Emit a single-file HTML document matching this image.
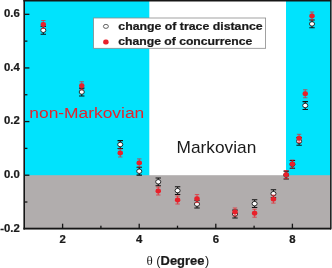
<!DOCTYPE html>
<html><head><meta charset="utf-8"><style>
html,body{margin:0;padding:0;background:#fff;}
svg{display:block;will-change:transform;transform:translateZ(0)}
text{font-family:"Liberation Sans",sans-serif;}
</style></head><body>
<svg width="332" height="268" viewBox="0 0 332 268">
<rect x="0" y="0" width="332" height="268" fill="#ffffff"/>
<rect x="25" y="1" width="124.3" height="175" fill="#00e3fd"/>
<rect x="286" y="1" width="45" height="175" fill="#00e3fd"/>
<rect x="25" y="175.2" width="306" height="53" fill="#b1adad"/>

<rect x="23.4" y="0" width="307.8" height="1.5" fill="#161616"/>
<rect x="23.4" y="0" width="1.6" height="229.5" fill="#161616"/>
<rect x="23.4" y="227.7" width="307.8" height="1.85" fill="#161616"/>
<rect x="330.1" y="0" width="1.1" height="229.5" fill="#161616"/>
<rect x="331.2" y="0" width="0.8" height="228.8" fill="#5a5a5a"/>
<rect x="25" y="13.66" width="4.4" height="1.3" fill="#161616"/>
<rect x="25" y="40.48" width="2.4" height="1.3" fill="#161616"/>
<rect x="25" y="67.29" width="4.4" height="1.3" fill="#161616"/>
<rect x="25" y="94.10" width="2.4" height="1.3" fill="#161616"/>
<rect x="25" y="120.92" width="4.4" height="1.3" fill="#161616"/>
<rect x="25" y="147.73" width="2.4" height="1.3" fill="#161616"/>
<rect x="25" y="174.55" width="4.4" height="1.3" fill="#161616"/>
<rect x="25" y="201.36" width="2.4" height="1.3" fill="#161616"/>
<rect x="61.95" y="223.70" width="1.3" height="4.4" fill="#161616"/>
<rect x="100.25" y="225.70" width="1.3" height="2.4" fill="#161616"/>
<rect x="138.55" y="223.70" width="1.3" height="4.4" fill="#161616"/>
<rect x="176.85" y="225.70" width="1.3" height="2.4" fill="#161616"/>
<rect x="215.15" y="223.70" width="1.3" height="4.4" fill="#161616"/>
<rect x="253.45" y="225.70" width="1.3" height="2.4" fill="#161616"/>
<rect x="291.75" y="223.70" width="1.3" height="4.4" fill="#161616"/>
<text transform="translate(19.80,17.21) scale(1.08,1)" font-size="10.5px" text-anchor="end" font-weight="bold" stroke="#1a1a1a" stroke-width="0.22" fill="#1a1a1a">0.6</text>
<text transform="translate(19.80,70.84) scale(1.08,1)" font-size="10.5px" text-anchor="end" font-weight="bold" stroke="#1a1a1a" stroke-width="0.22" fill="#1a1a1a">0.4</text>
<text transform="translate(19.80,124.47) scale(1.08,1)" font-size="10.5px" text-anchor="end" font-weight="bold" stroke="#1a1a1a" stroke-width="0.22" fill="#1a1a1a">0.2</text>
<text transform="translate(19.80,178.10) scale(1.08,1)" font-size="10.5px" text-anchor="end" font-weight="bold" stroke="#1a1a1a" stroke-width="0.22" fill="#1a1a1a">0.0</text>
<text transform="translate(19.80,231.73) scale(1.08,1)" font-size="10.5px" text-anchor="end" font-weight="bold" stroke="#1a1a1a" stroke-width="0.22" fill="#1a1a1a">-0.2</text>
<text transform="translate(62.60,242.60) scale(1.08,1)" font-size="10.5px" text-anchor="middle" font-weight="bold" stroke="#1a1a1a" stroke-width="0.22" fill="#1a1a1a">2</text>
<text transform="translate(139.20,242.60) scale(1.08,1)" font-size="10.5px" text-anchor="middle" font-weight="bold" stroke="#1a1a1a" stroke-width="0.22" fill="#1a1a1a">4</text>
<text transform="translate(215.80,242.60) scale(1.08,1)" font-size="10.5px" text-anchor="middle" font-weight="bold" stroke="#1a1a1a" stroke-width="0.22" fill="#1a1a1a">6</text>
<text transform="translate(292.40,242.60) scale(1.08,1)" font-size="10.5px" text-anchor="middle" font-weight="bold" stroke="#1a1a1a" stroke-width="0.22" fill="#1a1a1a">8</text>
<text transform="translate(146.60,265.00) scale(1.02,1)" font-size="12.8px" text-anchor="start" fill="#1a1a1a" style="font-family:'Liberation Serif',serif">θ</text>
<text transform="translate(156.30,265.00) scale(1.05,1)" font-size="12px" text-anchor="start" fill="#1a1a1a">(</text>
<text transform="translate(160.60,265.00) scale(1.06,1)" font-size="12.2px" text-anchor="start" font-weight="bold" stroke="#1a1a1a" stroke-width="0.22" fill="#1a1a1a">Degree</text>
<text transform="translate(204.90,265.00) scale(1.05,1)" font-size="12px" text-anchor="start" fill="#1a1a1a">)</text>
<text transform="translate(29.30,118.40) scale(1.133,1)" font-size="15.35px" text-anchor="start" fill="#e4222c">non-Markovian</text>
<text transform="translate(176.60,152.60) scale(1.1,1)" font-size="15.7px" text-anchor="start" fill="#1a1a1a">Markovian</text>
<path stroke="#111" stroke-width="1.05" fill="none" d="M43.30 26.35V34.15M40.60 26.35H46.00M40.60 34.15H46.00"/><ellipse cx="43.30" cy="30.25" rx="2.55" ry="2.25" fill="#fff" stroke="#1a1a1a" stroke-width="0.9"/>
<path stroke="#111" stroke-width="1.05" fill="none" d="M81.75 88.10V95.90M79.05 88.10H84.45M79.05 95.90H84.45"/><ellipse cx="81.75" cy="92.00" rx="2.55" ry="2.25" fill="#fff" stroke="#1a1a1a" stroke-width="0.9"/>
<path stroke="#111" stroke-width="1.05" fill="none" d="M120.25 140.60V148.40M117.55 140.60H122.95M117.55 148.40H122.95"/><ellipse cx="120.25" cy="144.50" rx="2.55" ry="2.25" fill="#fff" stroke="#1a1a1a" stroke-width="0.9"/>
<path stroke="#111" stroke-width="1.05" fill="none" d="M139.25 167.30V175.10M136.55 167.30H141.95M136.55 175.10H141.95"/><ellipse cx="139.25" cy="171.20" rx="2.55" ry="2.25" fill="#fff" stroke="#1a1a1a" stroke-width="0.9"/>
<path stroke="#111" stroke-width="1.05" fill="none" d="M158.25 177.90V185.70M155.55 177.90H160.95M155.55 185.70H160.95"/><ellipse cx="158.25" cy="181.80" rx="2.55" ry="2.25" fill="#fff" stroke="#1a1a1a" stroke-width="0.9"/>
<path stroke="#111" stroke-width="1.05" fill="none" d="M177.60 186.70V194.50M174.90 186.70H180.30M174.90 194.50H180.30"/><ellipse cx="177.60" cy="190.60" rx="2.55" ry="2.25" fill="#fff" stroke="#1a1a1a" stroke-width="0.9"/>
<path stroke="#111" stroke-width="1.05" fill="none" d="M197.00 200.20V208.00M194.30 200.20H199.70M194.30 208.00H199.70"/><ellipse cx="197.00" cy="204.10" rx="2.55" ry="2.25" fill="#fff" stroke="#1a1a1a" stroke-width="0.9"/>
<path stroke="#111" stroke-width="1.05" fill="none" d="M235.00 210.10V217.90M232.30 210.10H237.70M232.30 217.90H237.70"/><ellipse cx="235.00" cy="214.00" rx="2.55" ry="2.25" fill="#fff" stroke="#1a1a1a" stroke-width="0.9"/>
<path stroke="#111" stroke-width="1.05" fill="none" d="M254.60 199.75V207.55M251.90 199.75H257.30M251.90 207.55H257.30"/><ellipse cx="254.60" cy="203.65" rx="2.55" ry="2.25" fill="#fff" stroke="#1a1a1a" stroke-width="0.9"/>
<path stroke="#111" stroke-width="1.05" fill="none" d="M273.45 189.80V197.60M270.75 189.80H276.15M270.75 197.60H276.15"/><ellipse cx="273.45" cy="193.70" rx="2.55" ry="2.25" fill="#fff" stroke="#1a1a1a" stroke-width="0.9"/>
<path stroke="#111" stroke-width="1.05" fill="none" d="M286.20 171.10V178.90M283.50 171.10H288.90M283.50 178.90H288.90"/><ellipse cx="286.20" cy="175.00" rx="2.55" ry="2.25" fill="#fff" stroke="#1a1a1a" stroke-width="0.9"/>
<path stroke="#111" stroke-width="1.05" fill="none" d="M292.40 160.40V168.20M289.70 160.40H295.10M289.70 168.20H295.10"/><ellipse cx="292.40" cy="164.30" rx="2.55" ry="2.25" fill="#fff" stroke="#1a1a1a" stroke-width="0.9"/>
<path stroke="#111" stroke-width="1.05" fill="none" d="M299.10 137.40V145.20M296.40 137.40H301.80M296.40 145.20H301.80"/><ellipse cx="299.10" cy="141.30" rx="2.55" ry="2.25" fill="#fff" stroke="#1a1a1a" stroke-width="0.9"/>
<path stroke="#111" stroke-width="1.05" fill="none" d="M305.25 101.60V109.40M302.55 101.60H307.95M302.55 109.40H307.95"/><ellipse cx="305.25" cy="105.50" rx="2.55" ry="2.25" fill="#fff" stroke="#1a1a1a" stroke-width="0.9"/>
<path stroke="#111" stroke-width="1.05" fill="none" d="M312.00 20.00V27.80M309.30 20.00H314.70M309.30 27.80H314.70"/><ellipse cx="312.00" cy="23.90" rx="2.55" ry="2.25" fill="#fff" stroke="#1a1a1a" stroke-width="0.9"/>
<path stroke="#e8202a" stroke-width="0.7" fill="none" d="M43.30 20.50V28.50M41.10 20.50H45.50M41.10 28.50H45.50"/><rect x="40.55" y="22.05" width="5.5" height="4.9" rx="2.3" ry="2.1" fill="#e8202a"/>
<path stroke="#e8202a" stroke-width="0.7" fill="none" d="M81.75 81.75V89.75M79.55 81.75H83.95M79.55 89.75H83.95"/><rect x="79.00" y="83.30" width="5.5" height="4.9" rx="2.3" ry="2.1" fill="#e8202a"/>
<path stroke="#e8202a" stroke-width="0.7" fill="none" d="M120.25 149.00V157.00M118.05 149.00H122.45M118.05 157.00H122.45"/><rect x="117.50" y="150.55" width="5.5" height="4.9" rx="2.3" ry="2.1" fill="#e8202a"/>
<path stroke="#e8202a" stroke-width="0.7" fill="none" d="M139.25 158.90V166.90M137.05 158.90H141.45M137.05 166.90H141.45"/><rect x="136.50" y="160.45" width="5.5" height="4.9" rx="2.3" ry="2.1" fill="#e8202a"/>
<path stroke="#e8202a" stroke-width="0.7" fill="none" d="M158.25 187.00V195.00M156.05 187.00H160.45M156.05 195.00H160.45"/><rect x="155.50" y="188.55" width="5.5" height="4.9" rx="2.3" ry="2.1" fill="#e8202a"/>
<path stroke="#e8202a" stroke-width="0.7" fill="none" d="M177.60 196.00V204.00M175.40 196.00H179.80M175.40 204.00H179.80"/><rect x="174.85" y="197.55" width="5.5" height="4.9" rx="2.3" ry="2.1" fill="#e8202a"/>
<path stroke="#e8202a" stroke-width="0.7" fill="none" d="M197.00 194.60V202.60M194.80 194.60H199.20M194.80 202.60H199.20"/><rect x="194.25" y="196.15" width="5.5" height="4.9" rx="2.3" ry="2.1" fill="#e8202a"/>
<path stroke="#e8202a" stroke-width="0.7" fill="none" d="M235.00 208.00V216.00M232.80 208.00H237.20M232.80 216.00H237.20"/><rect x="232.25" y="209.55" width="5.5" height="4.9" rx="2.3" ry="2.1" fill="#e8202a"/>
<path stroke="#e8202a" stroke-width="0.7" fill="none" d="M254.60 209.20V217.20M252.40 209.20H256.80M252.40 217.20H256.80"/><rect x="251.85" y="210.75" width="5.5" height="4.9" rx="2.3" ry="2.1" fill="#e8202a"/>
<path stroke="#e8202a" stroke-width="0.7" fill="none" d="M273.45 195.10V203.10M271.25 195.10H275.65M271.25 203.10H275.65"/><rect x="270.70" y="196.65" width="5.5" height="4.9" rx="2.3" ry="2.1" fill="#e8202a"/>
<path stroke="#e8202a" stroke-width="0.7" fill="none" d="M286.20 170.60V178.60M284.00 170.60H288.40M284.00 178.60H288.40"/><rect x="283.45" y="172.15" width="5.5" height="4.9" rx="2.3" ry="2.1" fill="#e8202a"/>
<path stroke="#e8202a" stroke-width="0.7" fill="none" d="M292.40 160.00V168.00M290.20 160.00H294.60M290.20 168.00H294.60"/><rect x="289.65" y="161.55" width="5.5" height="4.9" rx="2.3" ry="2.1" fill="#e8202a"/>
<path stroke="#e8202a" stroke-width="0.7" fill="none" d="M299.10 134.30V142.30M296.90 134.30H301.30M296.90 142.30H301.30"/><rect x="296.35" y="135.85" width="5.5" height="4.9" rx="2.3" ry="2.1" fill="#e8202a"/>
<path stroke="#e8202a" stroke-width="0.7" fill="none" d="M305.25 89.75V97.75M303.05 89.75H307.45M303.05 97.75H307.45"/><rect x="302.50" y="91.30" width="5.5" height="4.9" rx="2.3" ry="2.1" fill="#e8202a"/>
<path stroke="#e8202a" stroke-width="0.7" fill="none" d="M312.00 12.00V20.00M309.80 12.00H314.20M309.80 20.00H314.20"/><rect x="309.25" y="13.55" width="5.5" height="4.9" rx="2.3" ry="2.1" fill="#e8202a"/>
<rect x="93.6" y="18" width="172" height="30.3" fill="#fff" stroke="#8a8a8a" stroke-width="0.8"/>
<ellipse cx="105.9" cy="26.4" rx="2.5" ry="2.0" fill="#fff" stroke="#222" stroke-width="0.7"/>
<rect x="103.15" y="39.6" width="5.5" height="4.9" rx="2.3" ry="2.1" fill="#e8202a"/>
<text transform="translate(118.30,29.90) scale(1.162,1)" font-size="10.6px" text-anchor="start" font-weight="bold" stroke="#1a1a1a" stroke-width="0.22" fill="#1a1a1a">change of trace distance</text>
<text transform="translate(118.30,45.10) scale(1.15,1)" font-size="10.6px" text-anchor="start" font-weight="bold" stroke="#1a1a1a" stroke-width="0.22" fill="#1a1a1a">change of concurrence</text>
</svg></body></html>
